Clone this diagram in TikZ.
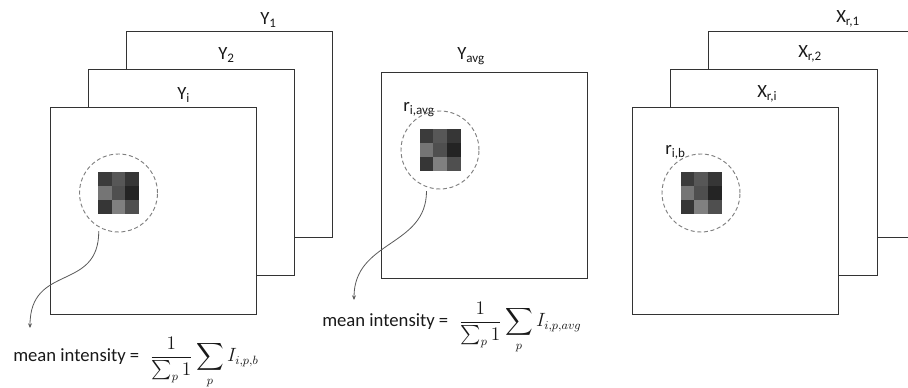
\documentclass[tikz,border=0pt]{standalone}
\usepackage{fontspec}
\setmainfont{Carlito}
\usepackage{amsmath}
\usetikzlibrary{arrows.meta, calc}

\tikzset{
	frame/.style={draw=black!80, line width=0.8pt, fill=white, minimum width=155pt, minimum height=155pt, inner sep=0pt},
	roi/.style={circle, draw=black!50, dash pattern=on 3pt off 2pt, line width=0.7pt, minimum size=58.5pt, inner sep=0pt},
	lbl/.style={anchor=base west, inner sep=0pt, font=\fontsize{14}{16}\selectfont, text=black!90},
	eqn/.style={anchor=base west, inner sep=0pt, font=\fontsize{14}{16}\selectfont, text=black!90},
	link/.style={draw=black!65, line width=0.6pt, -{Stealth[length=3.5pt,width=3pt]}}
}

\begin{document}
\begin{tikzpicture}[x=0.75pt, y=-0.75pt]
	\clip (0,0) rectangle (908,388);
	% 左边的图像堆
	\node[frame] (y1) at (229.5,134.5) {};
	\node[frame] (y2) at (191.5,172.5) {};
	\node[frame] (yi) at (153.5,211) {};
	\node[lbl] (ly1) at (260,25) {Y\textsubscript{1}};
	\node[lbl] (ly2) at (218,60) {Y\textsubscript{2}};
	\node[lbl] (lyi) at (177,100) {Y\textsubscript{i}};
	% 中间的平均图像
	\node[frame] (yavg) at (484.5,175.5) {};
	\node[lbl] (lyavg) at (457,60) {Y\textsubscript{avg}};
	\node[lbl] (lravg) at (403,112) {r\textsubscript{i,avg}};
	% 右边的图像堆
	\node[frame] (x1) at (811.5,134.5) {};
	\node[frame] (x2) at (774,172.5) {};
	\node[frame] (xi) at (735.5,211) {};
	\node[lbl] (lx1) at (836,23) {X\textsubscript{r,1}};
	\node[lbl] (lx2) at (798,58) {X\textsubscript{r,2}};
	\node[lbl] (lxi) at (757,98) {X\textsubscript{r,i}};
	\node[lbl] (lrb) at (665,155) {r\textsubscript{i,b}};
	% 区域
	\node[roi] (c1) at (118.5,193) {};
	\node[roi] (c2) at (440,150) {};
	\node[roi] (c3) at (701,193) {};
	% 像素块
	\foreach \n in {c1,c2,c3}
	\foreach \shade [count=\k from 0] in {77,66,79,54,69,86,79,50,69} {
		\pgfmathtruncatemacro\col{mod(\k,3)}
		\pgfmathtruncatemacro\row{div(\k,3)}
		\fill[black!\shade] ($(\n)+(-20.5+\col*13.67,-20.5+\row*13.67)$) rectangle ++(13.67,13.67);
	}
	% 公式
	\node[eqn] (mi1) at (13,362) {mean intensity =\hspace{8pt}{\fontsize{13.5}{16}\selectfont$\displaystyle\frac{1}{\sum_p 1}\sum_p I_{i,p,b}$}};
	\node[eqn] (mi2) at (322,327) {mean intensity =\hspace{8pt}{\fontsize{13.5}{16}\selectfont$\displaystyle\frac{1}{\sum_p 1}\sum_p I_{i,p,avg}$}};
	\coordinate (e1) at (30,328);
	\coordinate (e2) at (354,300);
	\draw[link, shorten <=3pt] (c1.240) .. controls +(0,65) and +(0,-65) .. (e1);
	\draw[link, shorten <=3pt] (c2.250) .. controls +(0,60) and +(0,-60) .. (e2);
\end{tikzpicture}
\end{document}
